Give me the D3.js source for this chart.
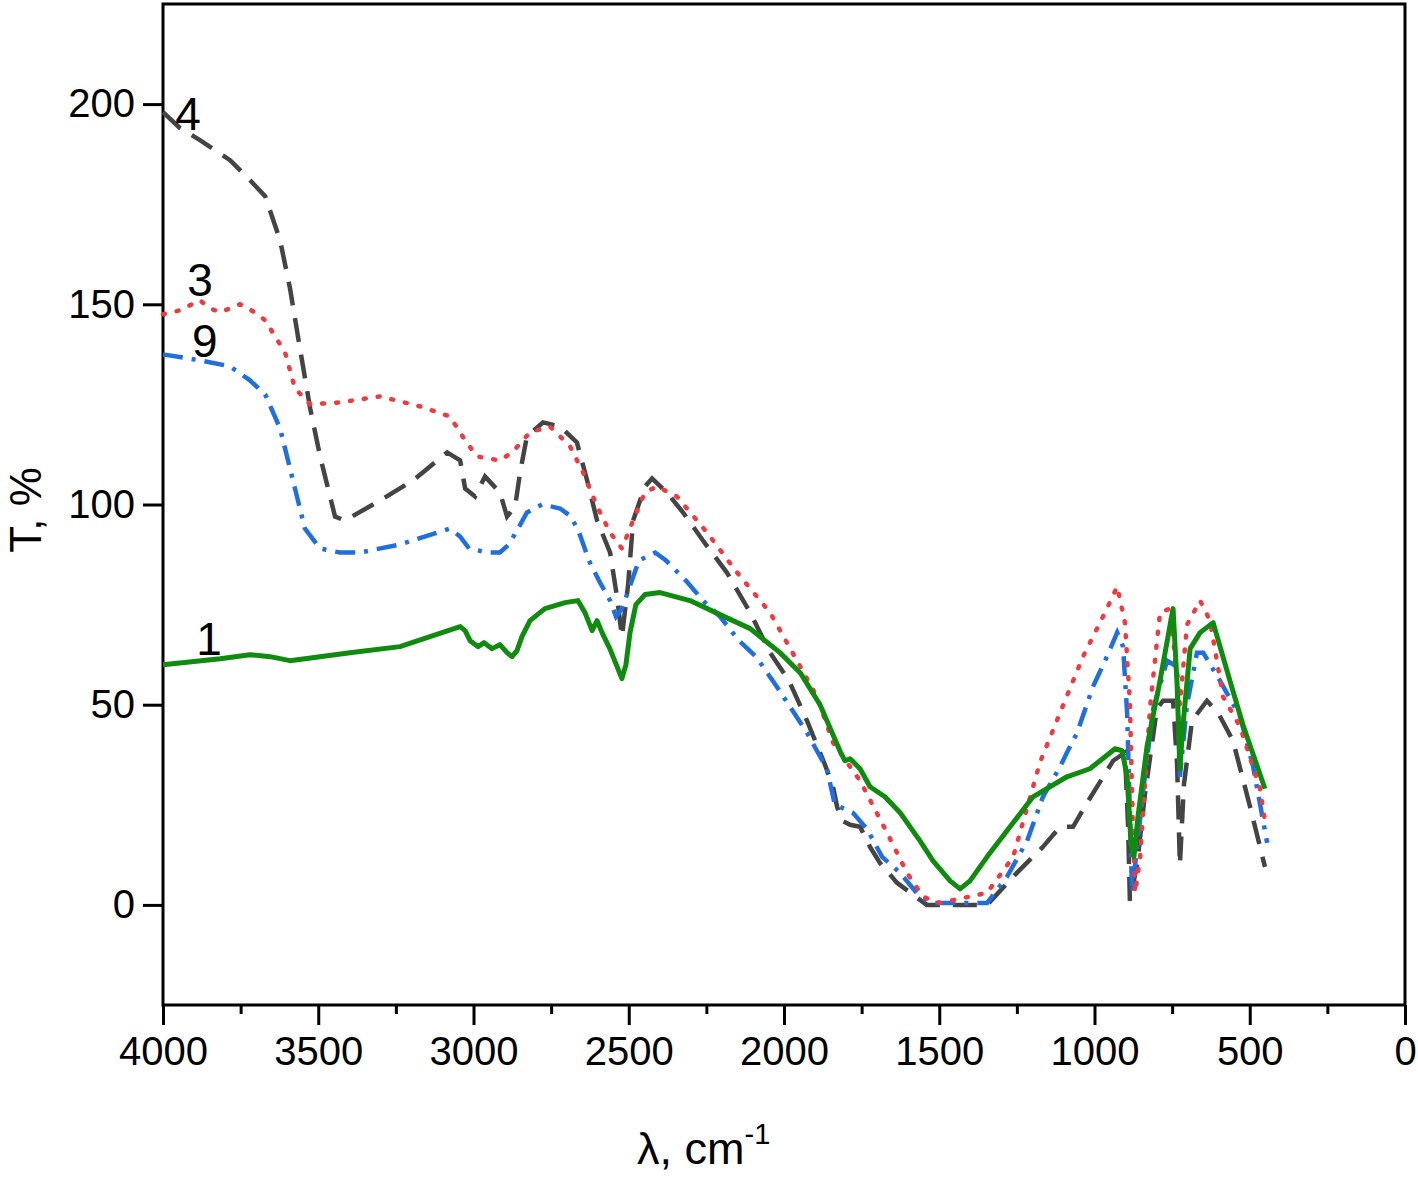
<!DOCTYPE html>
<html>
<head>
<meta charset="utf-8">
<script src="https://cdn.jsdelivr.net/npm/d3@7"></script>
<style>
  html, body { margin: 0; padding: 0; background: #fff; }
  svg { display: block; font-family: Arial, "Liberation Sans", sans-serif; }
</style>
</head>
<body>
<svg id="chart" width="1418" height="1177"></svg>
<script>
// ---- data (wavenumber cm^-1, transmittance %) ----
const wn1 = [4000,3816,3720,3655,3591,3398,3237,3043,3027,3011,2985,2966,2940,2915,2892,2876,2860,2844,2818,2770,2705,2664,2641,2618,2602,2586,2561,2535,2522,2509,2496,2477,2448,2399,2303,2206,2109,2013,1948,1884,1820,1804,1787,1755,1723,1675,1626,1562,1520,1465,1433,1401,1346,1272,1198,1089,1015,966,934,911,895,882,873,860,831,789,747,734,725,715,692,660,618,564,522,451];
const t1  = [60,61.5,62.5,62,61,63,64.5,69.5,68.5,66,64.5,65.5,64,65,63,62,63.5,67,71,74,75.5,76,73,68.5,71,68,64,59,56.5,60,68,75,77.5,78,76,72.5,69,63,58,50,38.5,36,36.5,34,29.5,27,23,16,11,6,4,6,12,19.5,27,32,34,37,39,38.5,32,15,12,22,39.5,56,74,55,34,45,64,68,70.5,56,45,29];

const wn3 = [4000,3945,3881,3849,3816,3752,3704,3671,3639,3607,3575,3526,3430,3301,3172,3076,3027,2989,2915,2876,2818,2754,2689,2647,2602,2560,2522,2486,2448,2409,2345,2248,2151,2045,1958,1894,1842,1755,1668,1604,1552,1498,1346,1262,1176,1111,1037,960,927,902,886,876,869,853,821,789,757,725,702,660,628,586,531,467,451];
const t3  = [147.5,148.5,151,149,148,150,148,146,142,138,129,125,125.5,127,124.5,122,116,112,111,113,118,119.5,114.5,108,99.5,93,89,96,103,104.5,102,93,83,73,61,52,40.5,31,18,8,2,0.5,3,12,35.5,48,62,74,79.5,70.5,50.5,18,3,12,49.5,73,74,50,70,76,71,52,44.5,29,21];

const wn4 = [4000,3945,3881,3784,3720,3671,3623,3591,3559,3526,3494,3446,3414,3301,3195,3140,3085,3043,3027,2995,2963,2915,2892,2866,2850,2828,2776,2721,2667,2634,2602,2560,2538,2522,2502,2486,2448,2425,2377,2325,2261,2184,2109,2045,1984,1926,1868,1842,1829,1813,1787,1755,1723,1691,1636,1540,1346,1250,1166,1111,1069,1024,940,902,892,886,863,837,799,779,747,734,725,712,686,638,602,554,499,451];
const t4  = [198,194,191,186,181,177,166,154,139,124,112,97,96,101,106,109.5,113,111,104,102,107,103,97,99.5,108,117,120.5,119.5,115.5,106,96,88,77,67,80,96,104.5,106.5,103,98,91,83,73,63,56,46,35,29.5,24.5,21,20,19.5,14.5,10.5,5.5,0,0,8,14.5,19.5,19.5,25.5,36,38,20,1,10,28,49,51,51,35,10,30,46,51,48,41,24.5,9.5];

const wn9 = [4000,3881,3784,3720,3671,3623,3575,3543,3494,3430,3366,3237,3076,3043,3014,2953,2915,2886,2853,2828,2779,2721,2686,2660,2628,2596,2560,2541,2522,2490,2467,2415,2380,2316,2261,2206,2145,2090,2023,1926,1862,1836,1820,1778,1733,1684,1626,1562,1520,1346,1282,1217,1166,1111,1089,1056,1005,960,927,908,895,886,879,844,811,766,734,725,702,670,650,596,531,489,444];
const t9  = [137.5,136,134.5,131,127.5,119,104,94,89,88,88,90,94,92,89,88,88,90,94.5,98,100,99,97,93,86,81,76,72,74,81,86,88,86,81,76,72,66,62,54.5,43,34,25,24.5,23,19,12,8,2,0.5,0.5,7,16,27,34.5,38,43,54.5,62,68,64.5,48,23,3,28,49,61,59.5,32,50,63,63,56,47,34.5,15.5];

const xTicks = [4000,3500,3000,2500,2000,1500,1000,500,0];
const yTicks = [0,50,100,150,200];
const labelNames = ["4","3","9","1"];
const labelWn = [3919,3881,3865,3852];
const labelT = [193.5,152,136.8,62.5];

// ---- layout ----
const svg = d3.select("#chart");
const L = 163, R = 1405, T = 4, B = 1005;
const x = d3.scaleLinear().domain([4000, 0]).range([L, R]);
const y = d3.scaleLinear().domain([-25, 225]).range([B, T]);

// frame
svg.append("rect").attr("x", L).attr("y", T).attr("width", R - L).attr("height", B - T)
  .attr("fill", "none").attr("stroke", "#000").attr("stroke-width", 3);

// minor x ticks
const gMinor = svg.append("g").attr("transform", `translate(0,${B})`)
  .call(d3.axisBottom(x).tickValues(d3.range(250, 4000, 500)).tickSize(9).tickFormat(""));
gMinor.select(".domain").remove();
gMinor.selectAll("line").attr("stroke", "#000").attr("stroke-width", 3);

// major x axis
const gx = svg.append("g").attr("transform", `translate(0,${B})`)
  .call(d3.axisBottom(x).tickValues(xTicks).tickSize(20).tickPadding(12).tickFormat(d3.format("d")));
gx.select(".domain").remove();
gx.selectAll("line").attr("stroke", "#000").attr("stroke-width", 3);
gx.selectAll("text").attr("font-size", 40).attr("fill", "#000")
  .attr("font-family", "Arial, 'Liberation Sans', sans-serif");

// y axis
const gy = svg.append("g").attr("transform", `translate(${L},0)`)
  .call(d3.axisLeft(y).tickValues(yTicks).tickSize(20).tickPadding(8).tickFormat(d3.format("d")));
gy.select(".domain").remove();
gy.selectAll("line").attr("stroke", "#000").attr("stroke-width", 3);
gy.selectAll("text").attr("font-size", 40).attr("fill", "#000")
  .attr("font-family", "Arial, 'Liberation Sans', sans-serif");

// axis titles
svg.append("text").attr("transform", "translate(41,510) rotate(-90)")
  .attr("text-anchor", "middle").attr("font-size", 44).text("T, %");
const xt = svg.append("text").attr("x", 637).attr("y", 1164).attr("font-size", 45);
xt.append("tspan").text("λ, cm");
xt.append("tspan").attr("dy", -20).attr("font-size", 29).text("-1");

// lines
const line = d3.line().x(d => x(d[0])).y(d => y(d[1]));
const zip = (a, b) => a.map((v, i) => [v, b[i]]);

const g = svg.append("g");
g.append("path").datum(zip(wn4, t4)).attr("d", line)
  .attr("fill", "none").attr("stroke", "#444").attr("stroke-width", 4.5)
  .attr("stroke-dasharray", "24 13");
g.append("path").datum(zip(wn9, t9)).attr("d", line)
  .attr("fill", "none").attr("stroke", "#1f6fde").attr("stroke-width", 4.5)
  .attr("stroke-dasharray", "20 9 4 9");
g.append("path").datum(zip(wn3, t3)).attr("d", line)
  .attr("fill", "none").attr("stroke", "#ee3b40").attr("stroke-width", 4.5)
  .attr("stroke-linecap", "round").attr("stroke-dasharray", "2 12");
g.append("path").datum(zip(wn1, t1)).attr("d", line)
  .attr("fill", "none").attr("stroke", "#0f8c0f").attr("stroke-width", 5)
  .attr("stroke-linejoin", "round");

// curve labels
const labels = labelNames.map((n, i) => ({name: n, wn: labelWn[i], t: labelT[i]}));
svg.append("g").selectAll("text").data(labels).join("text")
  .attr("x", d => x(d.wn)).attr("y", d => y(d.t))
  .attr("text-anchor", "middle").attr("font-size", 46).attr("fill", "#000")
  .text(d => d.name);
</script>
</body>
</html>
